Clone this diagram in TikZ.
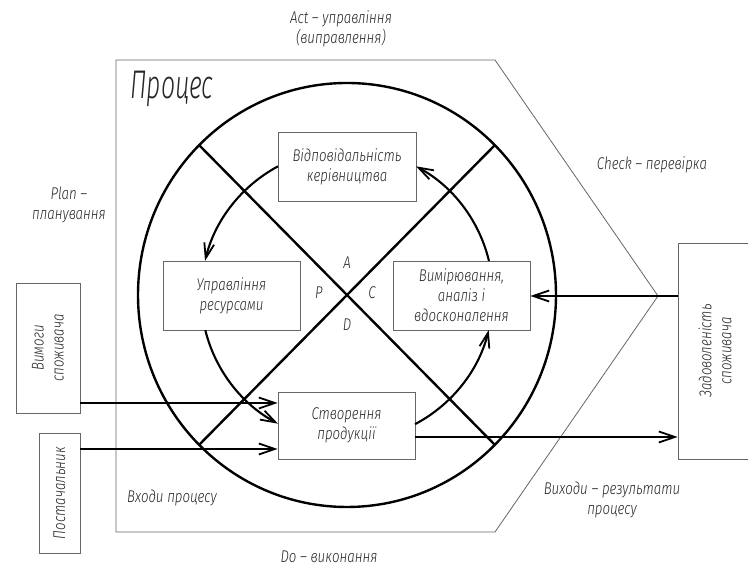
\documentclass[tikz,border=0pt]{standalone}
\usepackage{fontspec}
\setmainfont{Fira Sans Light Italic}[FakeStretch=0.78]
\newfontfamily\headfont{Fira Sans Light Italic}[FakeStretch=0.62]
\usetikzlibrary{arrows.meta,calc}
\begin{document}
\begin{tikzpicture}[x=1pt,y=1pt,
  frame/.style={draw=black!60, line width=0.8pt},
  blk/.style={draw=black!60, line width=0.8pt, fill=white, inner sep=0pt,
    align=center, text=black!85, font=\fontsize{17}{20}\selectfont},
  heavy/.style={line width=2.4pt},
  flow/.style={line width=2.4pt, -{Straight Barb[length=16pt,width=11pt,line width=1.8pt]}},
  cycflow/.style={line width=2.1pt, -{Straight Barb[length=15pt,width=10pt,line width=1.8pt]}},
  lbl/.style={align=center, text=black!85, inner sep=0pt, font=\fontsize{17}{20}\selectfont},
]
\clip (0,0) rectangle (748,567);
\fill[white] (0,0) rectangle (748,567);

% process boundary
\coordinate (tl) at (116,507);
\coordinate (tr) at (495,507);
\coordinate (tip) at (658,271);
\coordinate (br) at (495,35);
\coordinate (bl) at (116,35);
\draw[frame] (tl) -- (tr) -- (tip) -- (br) -- (bl) -- cycle;

% PDCA wheel
\coordinate (c) at (347,272);
\draw[heavy] (c) ellipse [x radius=209, y radius=212];
\draw[heavy] ($(c)+(-148,150)$) -- ($(c)+(148,-150)$);
\draw[heavy] ($(c)+(148,150)$) -- ($(c)+(-148,-150)$);

% process blocks
\node[blk, minimum width=138, minimum height=69] (vidp) at (347,400.5) {Відповідальність\\керівництва};
\node[blk, minimum width=137, minimum height=69] (uprav) at (231.5,271.5) {Управління\\ресурсами};
\node[blk, minimum width=137, minimum height=69] (vymir) at (461.5,271.5) {Вимірювання,\\аналіз і\\вдосконалення};
\node[blk, minimum width=137, minimum height=67] (stvor) at (346.5,141.5) {Створення\\продукції};

% external parties
\node[blk, rotate=90, minimum width=130, minimum height=64] (vymohy) at (48,219) {Вимоги\\споживача};
\node[blk, rotate=90, minimum width=120, minimum height=41] (post) at (59.5,74) {Постачальник};
\node[blk, rotate=90, minimum width=216, minimum height=74] (zadov) at (715,216) {Задоволеність\\споживача};

% cycle arrows
\draw[cycflow] ($(c)+(118.2:146)$) arc[start angle=118.2, end angle=166.5, radius=146];
\draw[cycflow] ($(c)+(193.9:146)$) arc[start angle=193.9, end angle=241.8, radius=146];
\draw[cycflow] ($(c)+(297.8:146)$) arc[start angle=297.8, end angle=346.1, radius=146];
\draw[cycflow] ($(c)+(13.5:146)$) arc[start angle=13.5, end angle=61.8, radius=146];

% inputs, output and feedback
\coordinate (in1) at (0,164);
\coordinate (in2) at (0,118);
\coordinate (out) at (0,130);
\draw[flow] (vymohy.south |- in1) -- (stvor.west |- in1);
\draw[flow] (post.south |- in2) -- (stvor.west |- in2);
\draw[flow] (stvor.east |- out) -- (zadov.north |- out);
\draw[flow] (zadov.north |- tip) -- (vymir.east |- tip);

% captions
\node[lbl] (act) at (341,538) {Act – управління\\(виправлення)};
\node[lbl, font=\headfont\fontsize{40}{44}\selectfont] (proc) at (172,478) {Процес};
\node[lbl] (plan) at (69,362) {Plan –\\планування};
\node[lbl] (check) at (652,402) {Check – перевірка};
\node[lbl] (la) at (347,304) {A};
\node[lbl] (lp) at (319,274) {P};
\node[lbl] (lc) at (372,274) {C};
\node[lbl] (ld) at (347,242) {D};
\node[lbl] (inp) at (172,69) {Входи процесу};
\node[lbl] (outp) at (612,67) {Виходи – результати\\процесу};
\node[lbl] (do) at (329,10) {Do – виконання};
\end{tikzpicture}
\end{document}
